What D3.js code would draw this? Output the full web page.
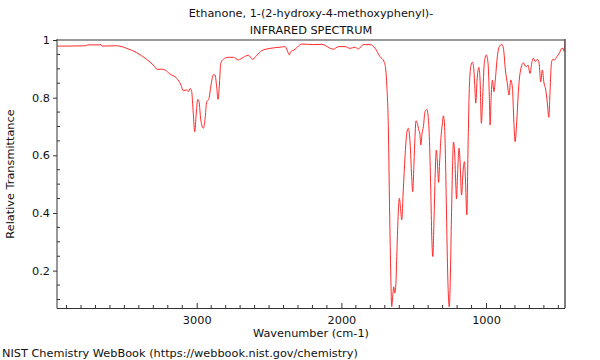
<!DOCTYPE html>
<html>
<head>
<meta charset="utf-8">
<script src="https://cdn.jsdelivr.net/npm/d3@7"></script>
<style>
  html, body { margin: 0; padding: 0; background: #fff; }
  svg { display: block; font-family: "DejaVu Sans", sans-serif; }
</style>
</head>
<body>
<svg id="chart" width="600" height="360"></svg>
<script>
// ---- Data ----
const titleLines = ["Ethanone, 1-(2-hydroxy-4-methoxyphenyl)-", "INFRARED SPECTRUM"];
const xLabel = "Wavenumber (cm-1)";
const yLabel = "Relative Transmittance";
const footer = "NIST Chemistry WebBook (https://webbook.nist.gov/chemistry)";

const xDomain = [3966, 454];
const yDomain = [0.0704, 1.0];
const xTickValues = [3000, 2000, 1000];
const yTickValues = [0.2, 0.4, 0.6, 0.8, 1];

const wavenumber = [
  3964, 3876, 3772, 3752, 3669, 3662, 3655, 3553, 3484, 3415,
  3346, 3300, 3273, 3242, 3219, 3185, 3138, 3109, 3093, 3069,
  3058, 3046, 3035, 3024, 3014, 3003, 2993, 2984, 2972, 2954,
  2943, 2931, 2917, 2903, 2885, 2874, 2862, 2853, 2844, 2834,
  2816, 2782, 2747, 2712, 2678, 2643, 2613, 2585, 2551, 2493,
  2424, 2390, 2367, 2360, 2352, 2341, 2320, 2274, 2194, 2136,
  2056, 2021, 1975, 1940, 1906, 1883, 1848, 1802, 1767, 1733,
  1705, 1693, 1686, 1675, 1668, 1659, 1652, 1645, 1638, 1631,
  1624, 1617, 1608, 1599, 1590, 1583, 1572, 1560, 1548, 1537,
  1525, 1514, 1507, 1498, 1491, 1484, 1475, 1465, 1458, 1451,
  1442, 1433, 1422, 1410, 1401, 1392, 1382, 1375, 1368, 1359,
  1350, 1344, 1337, 1328, 1320, 1310, 1302, 1295, 1287, 1280,
  1273, 1266, 1259, 1254, 1247, 1240, 1233, 1225, 1216, 1209,
  1204, 1197, 1186, 1180, 1169, 1159, 1149, 1142, 1133, 1124,
  1115, 1104, 1093, 1084, 1077, 1071, 1062, 1050, 1041, 1032,
  1023, 1012, 998, 986, 977, 972, 964, 956, 945, 936,
  922, 908, 891, 880, 866, 853, 841, 829, 818, 806,
  799, 788, 777, 765, 742, 723, 710, 696, 682, 673,
  659, 645, 633, 622, 611, 599, 587, 576, 566, 557,
  548, 539, 525, 511, 493, 476, 467, 458, 454
];
const transmittance = [
  0.979, 0.979, 0.980, 0.983, 0.983, 0.984, 0.979, 0.980, 0.971, 0.956,
  0.933, 0.913, 0.898, 0.899, 0.896, 0.882, 0.867, 0.844, 0.824, 0.827,
  0.821, 0.832, 0.821, 0.746, 0.682, 0.747, 0.794, 0.786, 0.723, 0.694,
  0.723, 0.786, 0.794, 0.838, 0.879, 0.879, 0.838, 0.794, 0.838, 0.919,
  0.933, 0.940, 0.940, 0.931, 0.940, 0.947, 0.933, 0.947, 0.963, 0.971,
  0.975, 0.977, 0.955, 0.948, 0.958, 0.962, 0.968, 0.986, 0.984, 0.985,
  0.968, 0.977, 0.977, 0.971, 0.975, 0.969, 0.984, 0.984, 0.971, 0.942,
  0.925, 0.896, 0.844, 0.688, 0.456, 0.202, 0.075, 0.112, 0.144, 0.122,
  0.147, 0.249, 0.387, 0.451, 0.410, 0.376, 0.480, 0.595, 0.677, 0.694,
  0.643, 0.526, 0.474, 0.573, 0.665, 0.720, 0.711, 0.688, 0.677, 0.636,
  0.677, 0.699, 0.751, 0.760, 0.740, 0.665, 0.480, 0.318, 0.249, 0.389,
  0.556, 0.618, 0.584, 0.506, 0.584, 0.671, 0.709, 0.737, 0.705, 0.584,
  0.393, 0.210, 0.099, 0.074, 0.168, 0.359, 0.532, 0.646, 0.601, 0.497,
  0.449, 0.532, 0.625, 0.584, 0.462, 0.542, 0.578, 0.514, 0.393, 0.636,
  0.840, 0.912, 0.923, 0.896, 0.833, 0.781, 0.861, 0.905, 0.861, 0.711,
  0.803, 0.919, 0.948, 0.919, 0.803, 0.705, 0.809, 0.861, 0.821, 0.861,
  0.942, 0.977, 0.985, 0.972, 0.896, 0.850, 0.809, 0.861, 0.837, 0.699,
  0.647, 0.712, 0.815, 0.884, 0.921, 0.907, 0.913, 0.884, 0.925, 0.937,
  0.925, 0.933, 0.919, 0.855, 0.896, 0.850, 0.827, 0.781, 0.732, 0.827,
  0.919, 0.933, 0.931, 0.942, 0.954, 0.971, 0.971, 0.959, 1.0
];

// ---- Layout ----
const plot = { left: 57, right: 565, top: 40, bottom: 308 };

const svg = d3.select("#chart");

const x = d3.scaleLinear().domain(xDomain).range([plot.left, plot.right]);
const y = d3.scaleLinear().domain(yDomain).range([plot.bottom, plot.top]);

const textColor = "#111";
const fontSize = 11.3;

// Title
svg.append("g").selectAll("text").data(titleLines).join("text")
  .attr("x", 311).attr("y", (d, i) => 17 + i * 17)
  .attr("text-anchor", "middle")
  .attr("font-size", fontSize).attr("fill", textColor)
  .text(d => d);

// Clip
svg.append("defs").append("clipPath").attr("id", "clip")
  .append("rect")
  .attr("x", plot.left).attr("y", plot.top)
  .attr("width", plot.right - plot.left).attr("height", plot.bottom - plot.top);

// Minor ticks
const xMinor = d3.range(500, 3966, 100).filter(v => !xTickValues.includes(v));
const yMinor = d3.range(0.1, 1.0001, 0.05).map(v => +v.toFixed(2)).filter(v => !yTickValues.includes(v));

const gx = svg.append("g").attr("transform", `translate(0,${plot.bottom})`);
gx.call(d3.axisBottom(x).tickValues(xTickValues).tickSizeInner(-5).tickSizeOuter(0).tickPadding(8)
    .tickFormat(d3.format("d")));
gx.select(".domain").remove();
gx.selectAll(".tick line").attr("stroke", "#333");
gx.selectAll(".tick text").attr("font-size", fontSize).attr("fill", textColor)
  .attr("font-family", "DejaVu Sans, sans-serif");
gx.append("g").selectAll("line").data(xMinor).join("line")
  .attr("x1", d => x(d)).attr("x2", d => x(d))
  .attr("y1", 0).attr("y2", -3).attr("stroke", "#333");

const gy = svg.append("g").attr("transform", `translate(${plot.left},0)`);
gy.call(d3.axisLeft(y).tickValues(yTickValues).tickSizeInner(4).tickSizeOuter(0).tickPadding(3)
    .tickFormat(d => d === 1 ? "1" : d3.format(".1f")(d)));
gy.select(".domain").remove();
gy.selectAll(".tick line").attr("stroke", "#333");
gy.selectAll(".tick text").attr("font-size", fontSize).attr("fill", textColor)
  .attr("font-family", "DejaVu Sans, sans-serif");
gy.append("g").selectAll("line").data(yMinor).join("line")
  .attr("x1", 0).attr("x2", 3)
  .attr("y1", d => y(d)).attr("y2", d => y(d)).attr("stroke", "#333");

// Spectrum
const pts = wavenumber.map((w, i) => [w, transmittance[i]]);
svg.append("path")
  .datum(pts)
  .attr("clip-path", "url(#clip)")
  .attr("fill", "none")
  .attr("stroke", "#ff2a2a")
  .attr("stroke-width", 1)
  .attr("stroke-linejoin", "round")
  .attr("d", d3.line().x(d => x(d[0])).y(d => y(d[1])).curve(d3.curveMonotoneX));

// Frame
svg.append("line").attr("x1", plot.left).attr("x2", plot.right).attr("y1", plot.top).attr("y2", plot.top)
  .attr("stroke", "#999").attr("stroke-width", 2);
svg.append("line").attr("x1", plot.right).attr("x2", plot.right).attr("y1", plot.top - 1).attr("y2", plot.bottom)
  .attr("stroke", "#555").attr("stroke-width", 1.5);
svg.append("line").attr("x1", plot.left).attr("x2", plot.left).attr("y1", plot.top - 1).attr("y2", plot.bottom + 0.5)
  .attr("stroke", "#333").attr("stroke-width", 1);
svg.append("line").attr("x1", plot.left).attr("x2", plot.right).attr("y1", plot.bottom + 0.5).attr("y2", plot.bottom + 0.5)
  .attr("stroke", "#333").attr("stroke-width", 1);

// Axis labels
svg.append("text").attr("x", 311).attr("y", 337)
  .attr("text-anchor", "middle").attr("font-size", fontSize).attr("fill", textColor)
  .text(xLabel);
svg.append("text")
  .attr("transform", `translate(14,174) rotate(-90)`)
  .attr("text-anchor", "middle").attr("font-size", fontSize).attr("fill", textColor)
  .text(yLabel);

// Footer
svg.append("text").attr("x", 2).attr("y", 357)
  .attr("font-size", fontSize).attr("fill", textColor)
  .text(footer);
</script>
</body>
</html>
